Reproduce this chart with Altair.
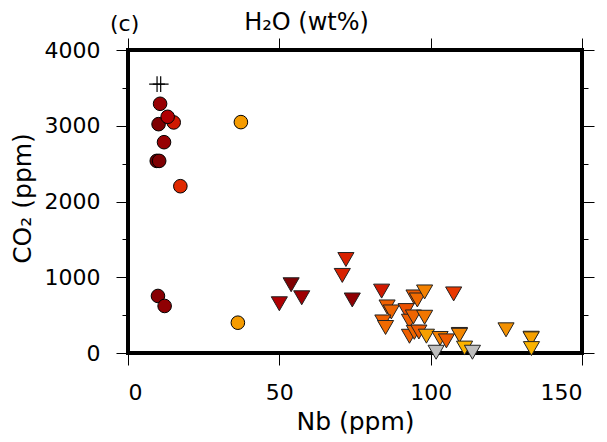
import altair as alt
import pandas as pd

FONT = "DejaVu Sans"

# circles (Nb ppm, CO2 ppm, H2O-like colour value)
circle_nb = [15.1, 10.1, 13.1, 10.6, 11.9, 9.5, 10.3, 17.3, 9.9, 12.1, 37.3, 36.3]
circle_co2 = [3044, 3021, 3118, 3290, 2783, 2536, 2536, 2202, 753, 621, 3048, 400]
circle_h2o = [3.6, 4.8, 4.2, 4.5, 4.5, 5.0, 4.8, 3.2, 4.7, 4.6, 1.1, 1.1]

# down triangles
tri_nb = [50.0, 53.9, 57.4, 72.0, 70.8, 74.1, 83.8, 85.6, 87.0, 84.2, 85.1,
          94.5, 95.6, 98.0, 107.6, 91.9, 93.0, 94.3, 98.0, 93.0, 94.6, 96.1,
          98.6, 103.1, 105.2, 109.5, 109.5, 111.2, 124.9, 133.2, 133.2, 133.3]
tri_co2 = [650, 901, 729, 1234, 1024, 700, 817, 608, 542, 410, 337,
           740, 700, 806, 780, 560, 420, 476, 472, 221, 273, 277,
           222, 192, 160, 245, 234, 65, 306, 195, 187, 58]
tri_h2o = [4.2, 4.8, 4.4, 3.4, 3.4, 4.6, 3.6, 2.2, 2.1, 2.2, 2.0,
           2.3, 2.0, 1.6, 2.9, 2.5, 2.2, 2.1, 1.8, 2.2, 2.1, 2.3,
           1.0, 1.6, 2.3, 2.4, 1.5, 0.4, 1.3, 1.6, 1.0, 0.4]

# grey (no data) triangles
grey_nb = [101.8, 113.8]
grey_co2 = [10, 10]

# plus symbols
plus_nb = [9.6, 10.8]
plus_co2 = [3550, 3550]

x_ticks = [0, 50, 100, 150]
y_major = [0, 1000, 2000, 3000, 4000]
y_minor = [500, 1500, 2500, 3500]

color_domain = [0, 1, 2, 3, 4, 5]
color_range = ["#FFC000", "#F5A000", "#F06A00", "#E83000", "#C00000", "#700000"]

circ_df = pd.DataFrame({"nb": circle_nb, "co2": circle_co2, "h2o": circle_h2o})
tri_df = pd.DataFrame({"nb": tri_nb, "co2": tri_co2, "h2o": tri_h2o})
grey_df = pd.DataFrame({"nb": grey_nb, "co2": grey_co2})
plus_df = pd.DataFrame({"nb": plus_nb, "co2": plus_co2})
label_df = pd.DataFrame({"label": ["(c)"]})

xscale = alt.Scale(domain=[0, 150], nice=False, zero=False)
yscale = alt.Scale(domain=[0, 4000], nice=False, zero=False)
cscale = alt.Scale(domain=color_domain, range=color_range)

common = dict(domain=False, tickColor="black", tickWidth=1, grid=False)

x_bottom = alt.Axis(orient="bottom", values=x_ticks, tickSize=12, labelPadding=17,
                    labelFontSize=22, format="d", title="Nb (ppm)", titleFontSize=25,
                    titleX=227, titleY=76, titleBaseline="alphabetic",
                    titleAlign="center", titleAngle=0, **common)
x_top = alt.Axis(orient="top", values=x_ticks, tickSize=12, labels=False,
                 title="H₂O (wt%)", titleFontSize=24, titleX=178, titleY=-21,
                 titleBaseline="alphabetic", titleAlign="center", titleAngle=0,
                 **common)
y_left = alt.Axis(orient="left", values=y_major, tickSize=12, labelPadding=16,
                  labelFontSize=22, format="d", title="CO₂ (ppm)", titleFontSize=25,
                  titleX=-98, titleY=148, titleAngle=270,
                  titleBaseline="alphabetic", titleAlign="center", **common)
y_right = alt.Axis(orient="right", values=y_major, tickSize=12, labels=False,
                   title=None, **common)
y_left_minor = alt.Axis(orient="left", values=y_minor, tickSize=6, labels=False,
                        title=None, **common)
y_right_minor = alt.Axis(orient="right", values=y_minor, tickSize=6, labels=False,
                         title=None, **common)

circles = alt.Chart(circ_df).mark_point(
    shape="circle", filled=True, size=185, stroke="black", strokeWidth=1, opacity=1
).encode(
    x=alt.X("nb:Q", scale=xscale, axis=x_bottom),
    y=alt.Y("co2:Q", scale=yscale, axis=y_left),
    color=alt.Color("h2o:Q", scale=cscale, legend=None),
)

tris = alt.Chart(tri_df).mark_point(
    shape="triangle-down", filled=True, size=260, stroke="#222222", strokeWidth=1, opacity=1
).encode(
    x=alt.X("nb:Q", scale=xscale, axis=x_top),
    y=alt.Y("co2:Q", scale=yscale, axis=y_right),
    color=alt.Color("h2o:Q", scale=cscale, legend=None),
)

greys = alt.Chart(grey_df).mark_point(
    shape="triangle-down", filled=True, size=260, stroke="#222222", strokeWidth=1,
    opacity=1, fill="#BEBEBE"
).encode(
    x=alt.X("nb:Q", scale=xscale, axis=None),
    y=alt.Y("co2:Q", scale=yscale, axis=y_left_minor),
)

plus = alt.Chart(plus_df).mark_point(
    shape="M-1,0L1,0M0,-1L0,1", filled=False, size=250, stroke="black",
    strokeWidth=1.2, opacity=1
).encode(
    x=alt.X("nb:Q", scale=xscale, axis=None),
    y=alt.Y("co2:Q", scale=yscale, axis=y_right_minor),
)

label = alt.Chart(label_df).mark_text(
    font=FONT, fontSize=22, align="left", baseline="alphabetic", color="black"
).encode(
    text="label:N", x=alt.value(-18), y=alt.value(-19)
)

chart = alt.layer(circles, tris, greys, plus, label).resolve_axis(
    x="independent", y="independent"
).properties(
    width=454, height=303,
    padding={"left": 120, "top": 42, "right": 17, "bottom": 81},
    autosize=alt.AutoSizeParams(type="none"),
).configure_view(
    stroke="black", strokeWidth=4
).configure_axis(
    labelFont=FONT, titleFont=FONT, labelColor="black", titleColor="black",
    titleFontWeight="normal"
)

chart.save("out.html", embed_options={"renderer": "svg", "actions": False})
